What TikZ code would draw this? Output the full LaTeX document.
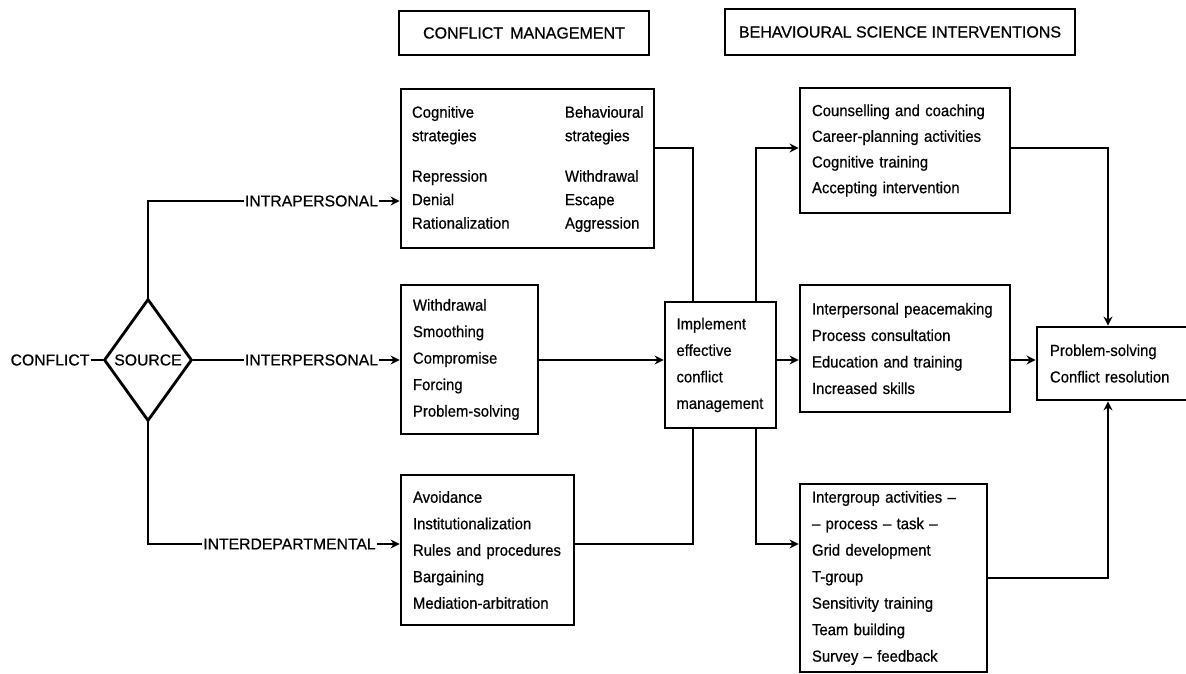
\documentclass[tikz,border=0pt]{standalone}
\usepackage{fontspec}
\setmainfont[FakeStretch=0.93,FakeBold=0.6]{Liberation Sans}
\newfontfamily\capfont[FakeBold=0.6]{Liberation Sans}
\usetikzlibrary{shapes.geometric,arrows.meta}
\begin{document}
\begin{tikzpicture}[x=1pt,y=-1pt,
  ln/.style={line width=2.8pt},
  arr/.style={line width=2.8pt,-{Stealth[length=9pt,width=9pt]}},
  box/.style={draw,line width=2.8pt,align=left,inner xsep=12pt,inner ysep=0pt,
    font=\fontsize{16}{26.5}\selectfont},
  lbl/.style={font=\capfont\fontsize{15.75}{18}\selectfont,inner sep=1pt},
  hdr/.style={draw,line width=2.8pt,inner sep=0pt,font=\capfont\fontsize{16}{18}\selectfont}]
\useasboundingbox (0,0) rectangle (1186,674);

% headers
\node[hdr,minimum width=250pt,minimum height=44pt] (h1) at (524,33) {CONFLICT\, MANAGEMENT};
\node[hdr,minimum width=350pt,minimum height=46pt] (h2) at (900,32) {BEHAVIOURAL SCIENCE INTERVENTIONS};

% left
\node[lbl] (conf) at (50,360) {CONFLICT};
\node[draw,diamond,line width=2.8pt,minimum width=88pt,minimum height=122pt,inner sep=0pt,
  font=\capfont\fontsize{15.75}{18}\selectfont] (src) at (148,360) {SOURCE};
\node[lbl] (intraL) at (311.5,201) {INTRAPERSONAL};
\node[lbl] (interL) at (311.5,360) {INTERPERSONAL};
\node[lbl] (deptL) at (289.5,544) {INTERDEPARTMENTAL};

% conflict management boxes
\node[box,inner xsep=11pt,minimum width=253pt,minimum height=159pt,text width=231pt] (intra) at (527.5,168.5)
{\fontsize{16}{23.5}\selectfont\begin{tabular}{@{}p{153pt}@{}l@{}}
Cognitive & Behavioural\\
strategies & strategies\\[17pt]
Repression & Withdrawal\\
Denial & Escape\\
Rationalization & Aggression
\end{tabular}};
\node[box,minimum width=137pt,minimum height=149pt,text width=113pt] (inter) at (469.5,359.5)
{Withdrawal\\Smoothing\\Compromise\\Forcing\\Problem-solving};
\node[box,minimum width=173pt,minimum height=150pt,text width=149pt] (dept) at (487.5,550)
{Avoidance\\Institutionalization\\Rules and procedures\\Bargaining\\Mediation-arbitration};

% implement
\node[box,inner xsep=11.5pt,minimum width=111pt,minimum height=126pt,text width=88pt] (impl) at (720.5,365)
{Implement\\effective\\conflict\\management};

% interventions
\node[box,inner xsep=12pt,minimum width=210pt,minimum height=125pt,text width=186pt,
  font=\fontsize{16}{25.7}\selectfont] (couns) at (905,150.5)
{Counselling and coaching\\Career-planning activities\\Cognitive training\\Accepting intervention};
\node[box,minimum width=210pt,minimum height=127pt,text width=186pt] (peace) at (905,348.5)
{Interpersonal peacemaking\\Process consultation\\Education and training\\Increased skills};
\node[box,minimum width=187pt,minimum height=188pt,text width=163pt] (grp) at (893.5,578)
{Intergroup activities --\\-- process -- task --\\Grid development\\T-group\\Sensitivity training\\Team building\\Survey -- feedback};
\node[box,inner xsep=13pt,minimum width=152pt,minimum height=73pt,text width=126pt] (final) at (1113,363.5)
{Problem-solving\\Conflict resolution};

% junction coordinates
\coordinate (yT) at (0,148);
\coordinate (yM) at (0,360);
\coordinate (yB) at (0,544);
\coordinate (yG) at (0,578);
\coordinate (xa) at (693,0);
\coordinate (xb) at (756,0);
\coordinate (xc) at (1108,0);

% left connectors
\draw[ln] (conf.east) -- (src.west);
\draw[ln] (src.north) |- (intraL.west);
\draw[ln] (src.east) -- (interL.west);
\draw[ln] (src.south) |- (deptL.west);
\draw[arr] (intraL.east) -- (intra.west |- intraL.east);
\draw[arr] (interL.east) -- (inter.west |- interL.east);
\draw[arr] (deptL.east) -- (dept.west |- deptL.east);

% into implement
\draw[ln] (intra.east |- yT) -| (xa |- impl.north);
\draw[arr] (inter.east |- yM) -- (impl.west |- yM);
\draw[ln] (dept.east |- yB) -| (xa |- impl.south);

% out of implement
\draw[arr] (xb |- impl.north) |- (couns.west |- yT);
\draw[arr] (impl.east |- yM) -- (peace.west |- yM);
\draw[arr] (xb |- impl.south) |- (grp.west |- yB);

% to final
\draw[arr] (couns.east |- yT) -| (xc |- final.north);
\draw[arr] (peace.east |- yM) -- (final.west |- yM);
\draw[arr] (grp.east |- yG) -| (xc |- final.south);
\end{tikzpicture}
\end{document}
